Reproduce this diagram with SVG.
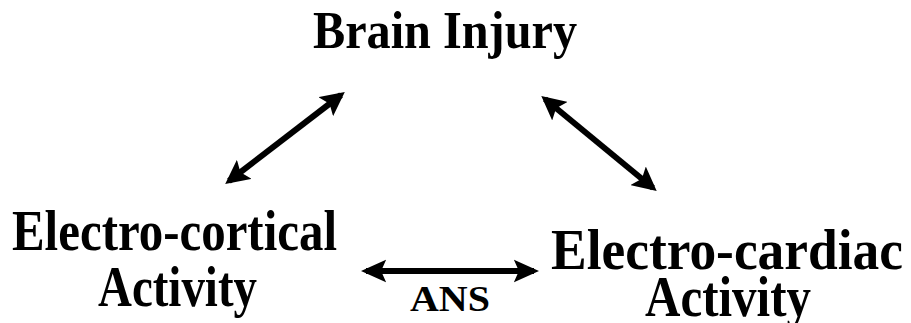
<svg xmlns="http://www.w3.org/2000/svg" width="911" height="323" viewBox="0 0 911 323">
<style>
.t{font-family:"Liberation Serif","Times New Roman",serif;font-weight:bold;fill:#000;text-anchor:start}
.c{stroke:#000;stroke-width:6;fill:none}
</style>
<defs>
<marker id="ah" viewBox="0 0 10 10" refX="8" refY="5" markerWidth="4" markerHeight="4" orient="auto-start-reverse" markerUnits="strokeWidth">
<path d="M0,0 L10,5 L0,10 L2,5 Z" fill="#000"/>
</marker>
<marker id="ah2" viewBox="0 0 10 10" refX="8" refY="5" markerWidth="4.2" markerHeight="4.2" orient="auto-start-reverse" markerUnits="strokeWidth">
<path d="M0,0.5 L10,5 L0,9.5 L2,5 Z" fill="#000"/>
</marker>
</defs>
<rect width="911" height="323" fill="#fff"/>
<g id="brain-injury"><text class="t" x="313" y="48" font-size="52" textLength="264" lengthAdjust="spacingAndGlyphs">Brain Injury</text></g>
<g id="electro-cortical"><text class="t" x="12" y="250" font-size="56" textLength="325" lengthAdjust="spacingAndGlyphs">Electro-cortical</text><text class="t" x="98" y="306" font-size="56" textLength="159" lengthAdjust="spacingAndGlyphs">Activity</text></g>
<g id="electro-cardiac"><text class="t" x="551" y="269" font-size="56" textLength="352" lengthAdjust="spacingAndGlyphs">Electro-cardiac</text><text class="t" x="645" y="316" font-size="56" textLength="166" lengthAdjust="spacingAndGlyphs">Activity</text></g>
<g id="connectors">
<line class="c" x1="229" y1="181" x2="341" y2="95" marker-start="url(#ah)" marker-end="url(#ah)"/>
<line class="c" x1="545" y1="99" x2="653" y2="188" marker-start="url(#ah)" marker-end="url(#ah)"/>
<line class="c" x1="366" y1="271" x2="534" y2="271" stroke-width="3.5" marker-start="url(#ah2)" marker-end="url(#ah2)"/>
<text class="t" x="410" y="311" font-size="36" textLength="80" lengthAdjust="spacingAndGlyphs">ANS</text>
</g>
</svg>
